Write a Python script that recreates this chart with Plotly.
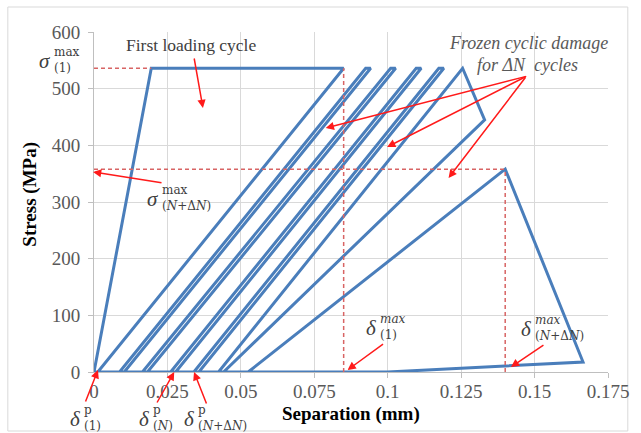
import plotly.graph_objects as go

# ---- data -------------------------------------------------------------
# Traction-separation path: first loading cycle, four cycles with small
# plastic growth, a frozen-damage jump and the final degraded cycle.
sigma_max_1 = 536.0      # peak stress of the first cycle (MPa)
delta_max_1 = 0.085      # separation at end of first plateau (mm)
sigma_max_N = 358.0      # peak stress after N + dN cycles (MPa)
delta_max_N = 0.140      # separation at that peak (mm)

sep_mm = [
    0.0, 0.0195, delta_max_1, 0.0013,
    0.0087, 0.0925, 0.0942, 0.0103,
    0.0165, 0.1010, 0.1027, 0.0182,
    0.0261, 0.1097, 0.1114, 0.0278,
    0.0340, 0.1174, 0.1191, 0.0357,
    0.0424, 0.1255, 0.1330, 0.0441,
    0.0525, delta_max_N, 0.1665, 0.1000, 0.0,
]
stress_mpa = [
    0, sigma_max_1, sigma_max_1, 0,
    0, sigma_max_1, sigma_max_1, 0,
    0, sigma_max_1, sigma_max_1, 0,
    0, sigma_max_1, sigma_max_1, 0,
    0, sigma_max_1, sigma_max_1, 0,
    0, sigma_max_1, 445, 0,
    0, sigma_max_N, 17.6, 0, 0,
]

x_ticks = [0, 0.025, 0.05, 0.075, 0.1, 0.125, 0.15, 0.175]
x_tick_text = ["0", "0.025", "0.05", "0.075", "0.1", "0.125", "0.15", "0.175"]
y_ticks = [0, 100, 200, 300, 400, 500, 600]

# ---- layout geometry (pixels) -----------------------------------------
W, H = 641, 433
L, R, T, B = 94, 613, 32, 372


def paper(px, py):
    return (px - L) / (R - L), (B - py) / (B - T)


SERIF = "Liberation Serif"
MATH = "DejaVu Serif"
BLUE = "#4a7ebb"
DASH_RED = "#d86464"
ARROW_RED = "#ff1a1a"
INK = "#404040"

fig = go.Figure()

fig.add_trace(go.Scatter(
    x=sep_mm, y=stress_mpa, mode="lines",
    line=dict(color=BLUE, width=3), hoverinfo="skip", showlegend=False,
))

# reference lines for the two peaks
ref_lines = [
    ([0, sep_mm[1]], [sigma_max_1, sigma_max_1]),
    ([delta_max_1, delta_max_1], [0, sigma_max_1]),
    ([0, delta_max_N], [sigma_max_N, sigma_max_N]),
    ([delta_max_N, delta_max_N], [0, sigma_max_N]),
]
for xs, ys in ref_lines:
    fig.add_trace(go.Scatter(
        x=xs, y=ys, mode="lines",
        line=dict(color=DASH_RED, width=1.5, dash="4px,3px"),
        hoverinfo="skip", showlegend=False,
    ))

annotations = []


def text(s, px, py, size, color=INK, angle=0, bold=False,
         family=SERIF, anchor="center", align="center"):
    x, y = paper(px, py)
    if bold:
        s = "<b>" + s + "</b>"
    annotations.append(dict(
        text=s, x=x, y=y, xref="paper", yref="paper",
        xanchor=anchor, yanchor="middle", showarrow=False, align=align,
        textangle=angle, font=dict(family=family, size=size, color=color),
        borderpad=0,
    ))


def symbol(glyph, upper, lower, px, py, size=12):
    """Symbol with a stacked superscript / subscript block to its right."""
    text("<i>" + glyph + "</i>", px - 1, py + 1, 21, anchor="right")
    text(upper + "<br>" + lower, px, py, size, family=MATH,
         anchor="left", align="left")


def arrow(tail, head):
    x, y = paper(*head)
    annotations.append(dict(
        text="", x=x, y=y, xref="paper", yref="paper",
        ax=tail[0] - head[0], ay=tail[1] - head[1],
        showarrow=True, arrowhead=2, arrowsize=1.1, arrowwidth=1.5,
        arrowcolor=ARROW_RED, standoff=0, startstandoff=0,
    ))


NdN = "(<i>N</i>+\u0394<i>N</i>)"

# axis titles
text("Stress (MPa)", 29, 194, 19, color="#000000", angle=-90, bold=True)
text("Separation (mm)", 354, 414, 19, color="#000000", bold=True)

# callouts
text("First loading cycle", 192, 45, 17.5)
text("<i>Frozen cyclic damage</i>", 533, 43, 18, color="#595959")
text("<i>for \u0394N  cycles</i>", 532, 65, 18, color="#595959")

symbol("\u03c3", "max", "(1)", 53, 60)
symbol("\u03c3", "max", NdN, 162, 198)
symbol("\u03b4", "<i>max</i>", "(1)", 382, 327)
symbol("\u03b4", "<i>max</i>", NdN, 538, 328)
symbol("\u03b4", "p", "(1)", 83, 418)
symbol("\u03b4", "p", "(<i>N</i>)", 153, 418)
symbol("\u03b4", "p", NdN, 198, 418)

arrow((195, 57), (204, 108))
arrow((163, 183), (93, 172))
for head in [(328, 128), (390, 147), (452, 178)]:
    arrow((530, 76), head)
arrow((387, 343), (350, 370))
arrow((549, 344), (515, 367))
arrow((85, 403), (98, 370))
arrow((157, 404), (175, 372))
arrow((208, 405), (195, 372))

# chart-area frame
x0, y0 = paper(7, 7)
x1, y1 = paper(633, 431)
shapes = [dict(type="rect", xref="paper", yref="paper",
               x0=x0, y0=y1, x1=x1, y1=y0,
               line=dict(color="#d9d9d9", width=1), layer="below")]

axis_common = dict(
    showgrid=True, gridcolor="#d9d9d9", gridwidth=1,
    showline=True, linecolor="#bfbfbf", linewidth=1,
    ticks="outside", ticklen=5, tickcolor="#bfbfbf",
    tickfont=dict(family=SERIF, size=19, color="#595959"),
    zeroline=False, fixedrange=True,
)

fig.update_layout(
    width=W, height=H,
    margin=dict(l=L, r=W - R, t=T, b=H - B, pad=0),
    paper_bgcolor="white", plot_bgcolor="white",
    xaxis=dict(range=[0, 0.175], tickvals=x_ticks, ticktext=x_tick_text,
               ticklabelstandoff=-3, **axis_common),
    yaxis=dict(range=[0, 600], tickvals=y_ticks, ticklabelstandoff=4,
               **axis_common),
    annotations=annotations, shapes=shapes, showlegend=False,
)

fig.write_html("out.html")
